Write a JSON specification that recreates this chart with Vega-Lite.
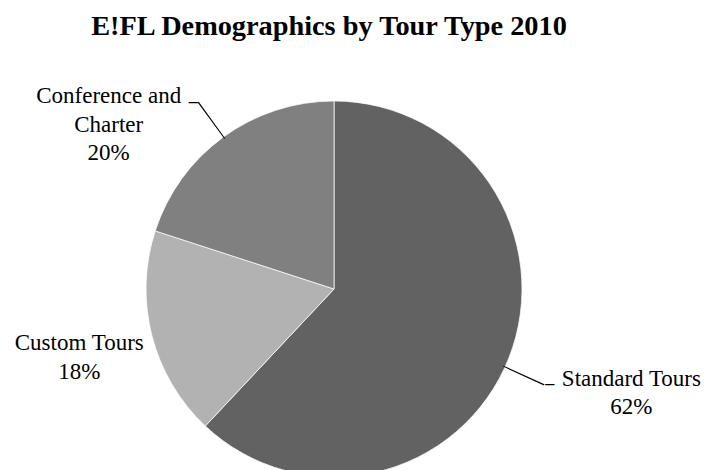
{
  "$schema": "https://vega.github.io/schema/vega-lite/v6.json",
  "autosize": {"type": "none"},
  "padding": {"left": 0, "top": 109, "right": 40, "bottom": 1},
  "width": 668,
  "height": 360,
  "background": "white",
  "title": {
    "text": "E!FL  Demographics by Tour Type 2010",
    "font": "Liberation Serif",
    "fontSize": 28.3,
    "fontWeight": "bold",
    "color": "black",
    "anchor": "middle",
    "frame": "group",
    "dx": -5,
    "offset": -44
  },
  "data": {
    "values": [
      {"category": "Standard Tours", "value": 62, "label": ["Standard Tours", "62%"]},
      {"category": "Custom Tours", "value": 18, "label": ["Custom Tours", "18%"]},
      {"category": "Conference and Charter", "value": 20, "label": ["Conference and", "Charter", "20%"]}
    ]
  },
  "transform": [
    {
      "stack": "value",
      "groupby": [],
      "sort": [{"field": "category", "order": "descending"}],
      "as": ["v0", "v1"]
    }
  ],
  "layer": [
    {
      "mark": {"type": "arc", "outerRadius": 188, "stroke": "white", "strokeWidth": 0.75},
      "encoding": {
        "theta": {"field": "v0", "type": "quantitative", "scale": {"domain": [0, 100]}},
        "theta2": {"field": "v1"},
        "color": {
          "field": "category",
          "type": "nominal",
          "scale": {
            "domain": ["Standard Tours", "Custom Tours", "Conference and Charter"],
            "range": ["#626262", "#b2b2b2", "#808080"]
          },
          "legend": null
        }
      }
    },
    {
      "transform": [{"filter": "datum.category === 'Standard Tours'"}],
      "mark": {
        "type": "arc",
        "innerRadius": 186,
        "outerRadius": 231,
        "thetaOffset": 1.995602,
        "theta2Offset": -1.894373,
        "color": "black"
      },
      "encoding": {
        "theta": {"field": "v0", "type": "quantitative"},
        "theta2": {"field": "v1"}
      }
    },
    {
      "transform": [{"filter": "datum.category === 'Conference and Charter'"}],
      "mark": {
        "type": "arc",
        "innerRadius": 186,
        "outerRadius": 231,
        "thetaOffset": 0.625519,
        "theta2Offset": -0.625519,
        "color": "black"
      },
      "encoding": {
        "theta": {"field": "v0", "type": "quantitative"},
        "theta2": {"field": "v1"}
      }
    },
    {
      "encoding": {
        "theta": {"field": "value", "type": "quantitative", "stack": true},
        "order": {"field": "category", "sort": "descending"},
        "detail": {"field": "category", "type": "nominal"}
      },
      "layer": [
        {
          "mark": {
            "type": "text",
            "radius": 231,
            "dx": 1,
            "dy": 11,
            "font": "DejaVu Sans Mono",
            "fontSize": 15,
            "align": "center",
            "baseline": "middle",
            "color": "black"
          },
          "encoding": {
            "text": {"condition": {"test": "datum.category === 'Standard Tours'", "value": "─"}, "value": ""}
          }
        },
        {
          "mark": {
            "type": "text",
            "radius": 231,
            "dx": -5,
            "dy": 1,
            "font": "DejaVu Sans Mono",
            "fontSize": 15,
            "align": "center",
            "baseline": "middle",
            "color": "black"
          },
          "encoding": {
            "text": {"condition": {"test": "datum.category === 'Conference and Charter'", "value": "─"}, "value": ""}
          }
        },
        {
          "mark": {
            "type": "text",
            "radius": 314.5,
            "dx": 5,
            "dy": -26,
            "font": "Liberation Serif",
            "fontSize": 23,
            "lineHeight": 28.5,
            "align": "center",
            "baseline": "middle",
            "color": "black"
          },
          "encoding": {
            "text": {"condition": {"test": "datum.category === 'Standard Tours'", "field": "label", "type": "nominal"}, "value": ""}
          }
        },
        {
          "mark": {
            "type": "text",
            "radius": 263,
            "dy": -11,
            "font": "Liberation Serif",
            "fontSize": 23,
            "lineHeight": 28.5,
            "align": "center",
            "baseline": "middle",
            "color": "black"
          },
          "encoding": {
            "text": {"condition": {"test": "datum.category === 'Custom Tours'", "field": "label", "type": "nominal"}, "value": ""}
          }
        },
        {
          "mark": {
            "type": "text",
            "radius": 203,
            "dx": -106,
            "dy": -28.5,
            "font": "Liberation Serif",
            "fontSize": 23,
            "lineHeight": 28.5,
            "align": "center",
            "baseline": "middle",
            "color": "black"
          },
          "encoding": {
            "text": {"condition": {"test": "datum.category === 'Conference and Charter'", "field": "label", "type": "nominal"}, "value": ""}
          }
        }
      ]
    }
  ],
  "config": {
    "view": {"stroke": null}
  }
}
